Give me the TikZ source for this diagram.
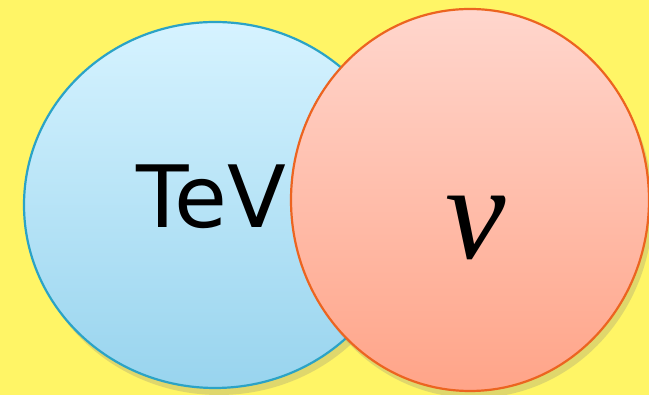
\documentclass[tikz,border=0pt]{standalone}
\usepackage{fontspec}
\setsansfont{DejaVu Sans}
\setmainfont{Liberation Serif}
\usepackage{xcolor}
\usetikzlibrary{shapes,positioning,calc,shadows,backgrounds}

\definecolor{bgyellow}{HTML}{FFF566}
\definecolor{tevtop}{HTML}{D6F3FF}
\definecolor{tevbot}{HTML}{98D4EE}
\definecolor{tevline}{HTML}{2BA3C6}
\definecolor{nutop}{HTML}{FFD6CD}
\definecolor{nubot}{HTML}{FFA488}
\definecolor{nuline}{HTML}{EC6420}

\begin{document}
\begin{tikzpicture}[
    x=1pt, y=1pt,
    blob/.style={ellipse, draw, line width=2.2pt, inner sep=0pt, drop shadow={shadow xshift=4pt, shadow yshift=-7pt, opacity=0.25}},
    tevblob/.style={blob, draw=tevline, top color=tevtop, bottom color=tevbot, minimum width=382pt, minimum height=366pt},
    nublob/.style={blob, draw=nuline, top color=nutop, bottom color=nubot, minimum width=358pt, minimum height=382pt},
    word/.style={text=black, inner sep=0pt}
]

% Background
\fill[bgyellow] (0,0) rectangle (649,395);
\useasboundingbox (0,0) rectangle (649,395);

% Circles
\node[tevblob] (tev) at (215,190) {};
\node[word, font=\sffamily\fontsize{86}{86}\selectfont, yshift=8pt, xshift=-4pt] (tevtext) at (tev.center) {TeV};
\node[nublob] (nu) at (470,195) {};
\node[word, font=\rmfamily\itshape\fontsize{136}{136}\selectfont, yshift=-28pt, xshift=6pt] (nutext) at (nu.center) {ν};

\end{tikzpicture}
\end{document}
